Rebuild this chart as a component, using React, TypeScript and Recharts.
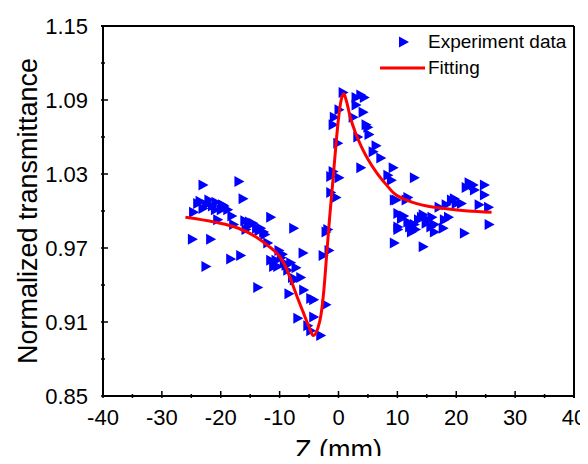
import { ScatterChart, Scatter, XAxis, YAxis, CartesianGrid } from "recharts";

const font = "'Liberation Sans', Arial, Helvetica, sans-serif";

// experiment points (z in mm, normalized transmittance)
const expZ = [
  -24.9, -24.7, -24.0, -23.6, -23.1, -23.1, -22.6, -22.5, -22.1, -21.8, -21.5, -21.0, -20.9, -20.6, -20.0, -19.8,
  -19.5, -18.9, -18.4, -18.2, -17.9, -17.0, -16.7, -16.3, -16.0, -15.8, -15.4, -15.2, -14.6, -14.0, -13.8, -13.6,
  -13.3, -12.8, -12.6, -12.1, -11.6, -11.6, -11.1, -10.7, -10.4, -10.2, -9.8, -9.6, -9.3, -9.0, -8.7, -8.5, -8.2,
  -7.9, -7.7, -7.6, -7.3, -7.0, -6.5, -6.1, -6.0, -5.3, -4.8, -4.8, -4.3, -4.3, -3.1, -2.7, -2.2, -2.2, -1.9, -1.7,
  -1.4, -1.4, -1.0, -1.0, -0.8, -0.5, -0.2, 0.0, 0.0, 0.7, 2.4, 2.9, 2.9, 3.2, 3.7, 3.7, 4.1, 4.3, 4.6, 4.9, 5.1,
  5.8, 6.3, 7.1, 8.3, 8.9, 9.2, 9.4, 9.4, 9.7, 10.0, 10.0, 10.0, 10.6, 11.0, 11.4, 11.7, 11.7, 12.0, 12.3, 12.8,
  12.8, 13.0, 13.5, 14.0, 14.3, 14.3, 14.8, 15.1, 15.6, 15.8, 16.2, 16.2, 17.0, 17.7, 17.9, 18.2, 18.6, 19.1, 19.6,
  19.9, 20.8, 21.3, 21.6, 22.1, 22.8, 23.0, 23.8, 24.7, 24.7, 25.4, 25.5,
];
const expT = [
  0.977, 0.999, 1.006, 1.008, 1.021, 1.002, 0.955, 1.005, 1.009, 0.977, 1.004, 1.001, 1.007, 0.993, 1.001, 1.005,
  1.004, 1.001, 0.961, 0.996, 0.989, 1.024, 0.964, 1.01, 0.992, 0.985, 0.988, 0.991, 0.99, 0.986, 0.938, 0.984,
  0.986, 0.983, 0.981, 0.974, 0.995, 0.96, 0.955, 0.96, 0.955, 0.968, 0.962, 0.965, 0.958, 0.956, 0.952, 0.933, 0.958,
  0.946, 0.986, 0.944, 0.954, 0.913, 0.946, 0.966, 0.936, 0.907, 0.929, 0.903, 0.928, 0.914, 0.899, 0.964, 0.924, 0.983, 0.985, 0.968,
  1.015, 1.028, 1.032, 1.07, 1.076, 1.011, 1.055, 1.027, 1.082, 1.096, 1.076, 1.086, 1.092, 1.06, 1.094, 1.035, 1.08, 1.092, 1.07, 1.068, 1.062,
  1.048, 1.053, 1.043, 1.029, 1.025, 1.035, 1.009, 0.974, 1.009, 0.998, 0.987, 0.985, 0.994, 0.996, 1.009, 0.991, 1.011, 0.987, 0.983, 1.027,
  0.989, 0.985, 0.993, 0.995, 0.997, 0.971, 0.99, 0.993, 0.987, 0.995, 0.989, 0.983, 1.003, 0.986, 0.993, 1.005, 0.995, 1.009, 1.01,
  1.006, 1.006, 0.982, 1.019, 1.023, 1.021, 1.017, 1.005, 1.021, 1.013, 1.003, 0.989,
];

// fitted curve
const fitZ = [-26, -21, -17, -14, -12, -10, -9, -8, -7, -6, -5, -4.3, -3.5, -3, -2.5, -2, -1.5, -1, -0.5, 0, 0.5, 0.9, 1.3, 2, 3, 4, 5, 6.5, 8, 9.5, 12, 15, 18, 22, 26];
const fitT = [0.995, 0.991, 0.986, 0.979, 0.972, 0.963, 0.955, 0.943, 0.93, 0.918, 0.906, 0.899, 0.905, 0.915, 0.935, 0.965, 0.995, 1.022, 1.05, 1.075, 1.091, 1.095, 1.09, 1.076, 1.062, 1.051, 1.042, 1.031, 1.022, 1.014, 1.008, 1.004, 1.002, 1.0, 0.999];

const xTicks = [-40, -35, -30, -25, -20, -15, -10, -5, 0, 5, 10, 15, 20, 25, 30, 35, 40];
const yTicks = [0.85, 0.88, 0.91, 0.94, 0.97, 1.0, 1.03, 1.06, 1.09, 1.12, 1.15];

const expData = expZ.map((z, i) => ({ z, t: expT[i] }));
const fitData = fitZ.map((z, i) => ({ z, t: fitT[i] }));

// plot box
const M = { top: 26, right: 14, left: 103, bottom: 68 };
const W = 588;
const H = 464;
const plotW = W - M.left - M.right;
const plotH = H - M.top - M.bottom;

function XTick({ x, y, payload }: any) {
  const v = payload.value;
  const major = v % 10 === 0;
  return (
    <g>
      <line x1={x} x2={x} y1={y} y2={y - (major ? 7 : 4)} stroke="#000" strokeWidth={1.5} />
      {v === 40 && <line x1={x} x2={x} y1={y} y2={y - plotH} stroke="#000" strokeWidth={2} />}
      {major && (
        <text x={x} y={y + 27} textAnchor="middle" fontSize={22} fontFamily={font} fill="#000">
          {v}
        </text>
      )}
    </g>
  );
}

function YTick({ x, y, payload }: any) {
  const v = payload.value;
  const major = Math.round((v - 0.85) / 0.03) % 2 === 0;
  return (
    <g>
      <line x1={x} x2={x + (major ? 7 : 4)} y1={y} y2={y} stroke="#000" strokeWidth={1.5} />
      {Math.abs(v - 1.15) < 1e-6 && <line x1={x} x2={x + plotW} y1={y} y2={y} stroke="#000" strokeWidth={2} />}
      {major && (
        <text x={x - 13} y={y + 8} textAnchor="end" fontSize={22} fontFamily={font} fill="#000">
          {v.toFixed(2)}
        </text>
      )}
    </g>
  );
}

function Tri({ cx, cy }: any) {
  return <path d={`M${cx - 4},${cy - 5.5} L${cx + 6},${cy} L${cx - 4},${cy + 5.5} Z`} fill="#0000ff" />;
}

export default function App() {
  return (
    <div style={{ position: "relative", margin: -8, width: W, height: H, background: "#fff" }}>
      <ScatterChart width={W} height={H} margin={{ top: M.top, right: M.right, bottom: 0, left: 0 }}>
        <CartesianGrid
          horizontalValues={[1.15]}
          verticalValues={[40]}
          stroke="#000"
          strokeWidth={2}
          strokeOpacity={1}
        />
        <XAxis
          dataKey="z"
          type="number"
          domain={[-40, 40]}
          ticks={xTicks}
          interval={0}
          height={M.bottom}
          tickSize={0}
          tickLine={false}
          axisLine={{ stroke: "#000", strokeWidth: 2 }}
          tick={<XTick />}
          label={{
            content: ({ viewBox }: any) => (
              <text x={viewBox.x + viewBox.width / 2} y={viewBox.y + 63} textAnchor="middle" fontSize={27} fontFamily={font} fill="#000">
                Z (mm)
              </text>
            ),
          }}
        />
        <YAxis
          dataKey="t"
          type="number"
          domain={[0.85, 1.15]}
          ticks={yTicks}
          interval={0}
          width={M.left}
          tickSize={0}
          tickLine={false}
          axisLine={{ stroke: "#000", strokeWidth: 2 }}
          tick={<YTick />}
          label={{
            content: ({ viewBox }: any) => {
              const cx = viewBox.x + 28;
              const cy = viewBox.y + viewBox.height / 2;
              return (
                <text x={cx} y={cy} transform={`rotate(-90 ${cx} ${cy})`} textAnchor="middle" dominantBaseline="central" fontSize={27} fontFamily={font} fill="#000">
                  Normalized transmittance
                </text>
              );
            },
          }}
        />
        <Scatter data={expData} shape={<Tri />} isAnimationActive={false} />
        <Scatter
          data={fitData}
          line={{ stroke: "#ff0000", strokeWidth: 3 }}
          lineJointType="monotoneX"
          shape={() => <g />}
          isAnimationActive={false}
        />
      </ScatterChart>
      <div style={{ position: "absolute", left: 376, top: 29, fontFamily: font, fontSize: 19, color: "#000", lineHeight: "26px" }}>
        <div style={{ display: "flex", alignItems: "center" }}>
          <svg width={52} height={20}>
            <path d="M23,4.5 L33,10 L23,15.5 Z" fill="#0000ff" />
          </svg>
          <span>Experiment data</span>
        </div>
        <div style={{ display: "flex", alignItems: "center" }}>
          <svg width={52} height={20}>
            <line x1={4} x2={49} y1={10} y2={10} stroke="#ff0000" strokeWidth={3} />
          </svg>
          <span>Fitting</span>
        </div>
      </div>
    </div>
  );
}
